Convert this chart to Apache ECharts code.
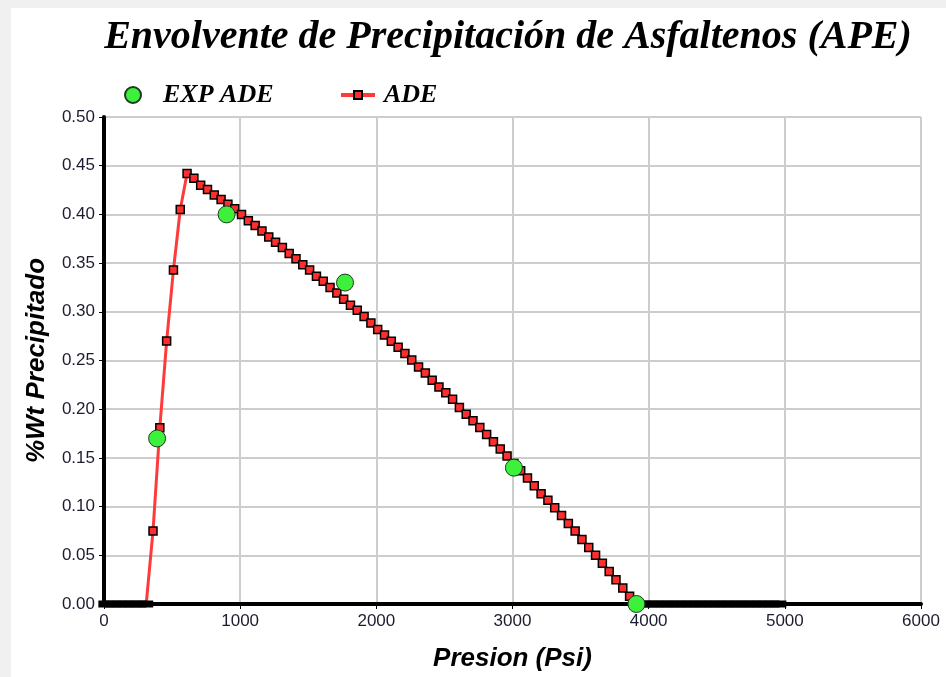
<!DOCTYPE html>
<html>
<head>
<meta charset="utf-8">
<script src="https://cdn.jsdelivr.net/npm/echarts@6/dist/echarts.min.js"></script>
<style>
  html, body { margin: 0; padding: 0; background: #f0f0f0; }
  #wrap { position: absolute; left: 0; top: 0; width: 946px; height: 677px; overflow: hidden; background: #f0f0f0; }
  #panel { position: absolute; left: 11px; top: 8px; width: 935px; height: 669px; background: #ffffff; }
  #chart { position: absolute; left: 0; top: 0; width: 946px; height: 677px; }
</style>
</head>
<body>
<div id="wrap">
  <div id="panel"></div>
  <div id="chart"></div>
</div>
<script>
// Modelled asphaltene deposition envelope (ADE): pressure in psi, precipitated wt%
const adePressure = [
  10, 60, 110, 160, 210, 260, 310, 360, 410, 460,
  510, 560, 610, 660, 710, 760, 810, 860, 910, 960,
  1010, 1060, 1110, 1160, 1210, 1260, 1310, 1360, 1410, 1460,
  1510, 1560, 1610, 1660, 1710, 1760, 1810, 1860, 1910, 1960,
  2010, 2060, 2110, 2160, 2210, 2260, 2310, 2360, 2410, 2460,
  2510, 2560, 2610, 2660, 2710, 2760, 2810, 2860, 2910, 2960,
  3010, 3060, 3110, 3160, 3210, 3260, 3310, 3360, 3410, 3460,
  3510, 3560, 3610, 3660, 3710, 3760, 3810, 3860, 3910, 3960,
  4010, 4060, 4110, 4160, 4210, 4260, 4310, 4360, 4410, 4460,
  4510, 4560, 4610, 4660, 4710, 4760, 4810, 4860, 4910, 4960
];
const adeWt = [
  0, 0, 0, 0, 0, 0, 0, 0.075, 0.181, 0.270,
  0.343, 0.405, 0.442, 0.437, 0.430, 0.4255, 0.420, 0.4153, 0.4105, 0.4058,
  0.400, 0.3936, 0.3885, 0.383, 0.3769, 0.3714, 0.366, 0.3599, 0.3545, 0.3483,
  0.3429, 0.3364, 0.3313, 0.3249, 0.3194, 0.313, 0.3068, 0.3017, 0.2953, 0.2885,
  0.2818, 0.2762, 0.2698, 0.2636, 0.2571, 0.2504, 0.2433, 0.2371, 0.2296, 0.2228,
  0.217, 0.2102, 0.2017, 0.1949, 0.1882, 0.1813, 0.1739, 0.1667, 0.1592, 0.152,
  0.1443, 0.1367, 0.1293, 0.1214, 0.1133, 0.1065, 0.0987, 0.0908, 0.0827, 0.0749,
  0.0663, 0.0579, 0.05, 0.0418, 0.0334, 0.0249, 0.0163, 0.0079, 0, 0,
  0, 0, 0, 0, 0, 0, 0, 0, 0, 0,
  0, 0, 0, 0, 0, 0, 0, 0, 0, 0
];

// Experimental points (EXP ADE)
const expPressure = [390, 900, 1770, 3010, 3910];
const expWt = [0.17, 0.40, 0.33, 0.14, 0.0];

// Axis ticks
const xTicks = [0, 1000, 2000, 3000, 4000, 5000, 6000];
const yTicks = [0, 0.05, 0.10, 0.15, 0.20, 0.25, 0.30, 0.35, 0.40, 0.45, 0.50];

// Points sitting on the zero line are drawn as wide black bars that merge into a solid band
const adeData = adePressure.map((p, i) => {
  const w = adeWt[i];
  return w === 0
    ? { value: [p, w], symbolSize: [14, 7], itemStyle: { color: '#000000', borderColor: '#000000', borderWidth: 0 } }
    : { value: [p, w] };
});
const expData = expPressure.map((p, i) => [p, expWt[i]]);

const chart = echarts.init(document.getElementById('chart'), null, { renderer: 'canvas' });

const serif = '"Liberation Serif", "Times New Roman", serif';
const sans = '"Liberation Sans", Arial, sans-serif';
const legendText = {
  fontFamily: serif,
  fontStyle: 'italic',
  fontWeight: 'bold',
  fontSize: 26,
  color: '#000000'
};

chart.setOption({
  backgroundColor: 'transparent',
  animation: false,
  title: {
    text: 'Envolvente de Precipitación de Asfaltenos (APE)',
    left: 503,
    textAlign: 'center',
    top: 13,
    textStyle: {
      fontFamily: serif,
      fontStyle: 'italic',
      fontWeight: 'bold',
      fontSize: 40,
      color: '#000000'
    }
  },
  legend: [
    {
      left: 119,
      top: 77,
      itemWidth: 50,
      itemHeight: 16,
      data: [{ name: 'EXP ADE', icon: 'circle' }],
      textStyle: legendText
    },
    {
      left: 334,
      top: 77,
      itemWidth: 34,
      itemHeight: 10,
      data: [{ name: 'ADE' }],
      lineStyle: { width: 4, color: '#ff3a3a' },
      textStyle: Object.assign({ padding: [0, 0, 0, 4] }, legendText)
    }
  ],
  grid: { left: 104, right: 25, top: 117, bottom: 70, containLabel: false },
  xAxis: {
    type: 'value',
    min: xTicks[0],
    max: xTicks[xTicks.length - 1],
    interval: xTicks[1] - xTicks[0],
    name: 'Presion (Psi)',
    nameLocation: 'middle',
    nameGap: 42,
    nameTextStyle: {
      fontFamily: sans,
      fontStyle: 'italic',
      fontWeight: 'bold',
      fontSize: 26,
      color: '#000000'
    },
    axisLine: { show: true, onZero: false, lineStyle: { color: '#000000', width: 4 } },
    axisTick: { show: true, length: 5, lineStyle: { color: '#000000', width: 1 } },
    axisLabel: {
      fontFamily: sans,
      fontSize: 17,
      color: '#1c1c30',
      margin: 9,
      formatter: v => String(v)
    },
    splitLine: { show: true, lineStyle: { color: '#cdcdcd', width: 2 } }
  },
  yAxis: {
    type: 'value',
    min: yTicks[0],
    max: yTicks[yTicks.length - 1],
    interval: 0.05,
    name: '%Wt Precipitado',
    nameLocation: 'middle',
    nameGap: 54,
    nameTextStyle: {
      fontFamily: sans,
      fontStyle: 'italic',
      fontWeight: 'bold',
      fontSize: 26,
      color: '#000000'
    },
    axisLine: { show: true, onZero: false, lineStyle: { color: '#000000', width: 4 } },
    axisTick: { show: true, length: 5, lineStyle: { color: '#000000', width: 1 } },
    axisLabel: {
      fontFamily: sans,
      fontSize: 17,
      color: '#1c1c30',
      margin: 9,
      formatter: v => v.toFixed(2)
    },
    splitLine: { show: true, lineStyle: { color: '#cdcdcd', width: 2 } }
  },
  series: [
    {
      name: 'ADE',
      type: 'line',
      data: adeData,
      symbol: 'rect',
      symbolSize: 8,
      showAllSymbol: true,
      z: 3,
      lineStyle: { color: '#ff3a3a', width: 3 },
      itemStyle: { color: '#ff2e2e', borderColor: '#000000', borderWidth: 1.5 }
    },
    {
      name: 'EXP ADE',
      type: 'scatter',
      data: expData,
      symbol: 'circle',
      symbolSize: 17,
      z: 5,
      itemStyle: { color: '#3cf03c', borderColor: '#1e3a1e', borderWidth: 1, opacity: 1 }
    }
  ]
});
</script>
</body>
</html>
